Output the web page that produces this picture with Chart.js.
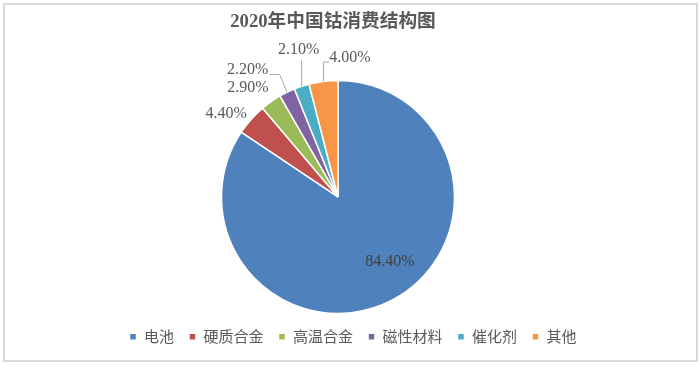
<!DOCTYPE html>
<html lang="zh">
<head>
<meta charset="UTF-8">
<title>2020年中国钴消费结构图</title>
<style>
  html, body { margin: 0; padding: 0; background: #fff; }
  #wrap { position: relative; width: 700px; height: 365px; }
  #frame { position: absolute; left: 3px; top: 3px; width: 691px; height: 355px; border: 2px solid #d9d9d9; pointer-events: none; }
</style>
</head>
<body>
<div id="wrap">
  <canvas id="cobalt-chart" width="700" height="365"></canvas>
  <div id="frame"></div>
</div>
<script src="https://cdn.jsdelivr.net/npm/chart.js@4.4.1/dist/chart.umd.min.js"></script>
<script>
// данные
const categories = ['电池', '硬质合金', '高温合金', '磁性材料', '催化剂', '其他'];
const shares = [84.4, 4.4, 2.9, 2.2, 2.1, 4.0];
const colors = ['#4f81bd', '#c0504d', '#9bbb59', '#8064a2', '#4bacc6', '#f79646'];

// где ставить подписи: text — центр текста относительно точки на краю сектора,
// line — излом выноски; inner — подпись внутри (доля радиуса от центра)
const labelPlace = [
  { inner: [0.445, 0.56] },
  { text: [-25, -6] },
  { text: [-23, -13.5] },
  { text: [-39.5, -22], line: [[-7.5, -17.8], [-17.5, -17.8]] },
  { text: [-3, -36.5], line: [[0, -26]] },
  { text: [26.5, -24], line: [[0, -19.4], [5.5, -19.4]] }
];

const serif = '"Liberation Serif", "Times New Roman", "Noto Sans CJK SC", serif';

const pieLabels = {
  id: 'pieLabels',
  afterDatasetsDraw(chart) {
    const ctx = chart.ctx;
    const arcs = chart.getDatasetMeta(0).data;
    ctx.save();
    ctx.font = '16px ' + serif;
    ctx.textAlign = 'center';
    ctx.textBaseline = 'middle';
    arcs.forEach((arc, i) => {
      const { x, y, startAngle, endAngle, outerRadius } = arc.getProps(['x', 'y', 'startAngle', 'endAngle', 'outerRadius'], true);
      const place = labelPlace[i];
      const text = shares[i].toFixed(2) + '%';
      if (place.inner) {
        ctx.fillStyle = '#404040';
        ctx.fillText(text, x + place.inner[0] * outerRadius, y + place.inner[1] * outerRadius);
        return;
      }
      const mid = (startAngle + endAngle) / 2;
      const ax = x + Math.cos(mid) * outerRadius;
      const ay = y + Math.sin(mid) * outerRadius;
      if (place.line) {
        ctx.strokeStyle = '#a6a6a6';
        ctx.lineWidth = 1;
        ctx.beginPath();
        ctx.moveTo(ax, ay);
        place.line.forEach(p => ctx.lineTo(ax + p[0], ay + p[1]));
        ctx.stroke();
      }
      ctx.fillStyle = '#595959';
      ctx.fillText(text, ax + place.text[0], ay + place.text[1]);
    });
    ctx.restore();
  }
};

// немного сдвигаем легенду и заголовок, как в оригинале
const nudge = {
  id: 'nudge',
  afterLayout(chart) {
    chart.legend.left += 15;
    chart.legend.right += 15;
    chart.titleBlock.left -= 5;
    chart.titleBlock.right -= 5;
  }
};

const ctx = document.getElementById('cobalt-chart').getContext('2d');
const chart = new Chart(ctx, {
  type: 'pie',
  data: {
    labels: categories,
    datasets: [{
      data: shares,
      backgroundColor: colors,
      borderColor: '#ffffff',
      borderWidth: 1.5
    }]
  },
  options: {
    responsive: false,
    animation: false,
    layout: { padding: { top: 0, right: 24, bottom: 10.8, left: 0 } },
    plugins: {
      title: {
        display: true,
        text: '2020年中国钴消费结构图',
        color: '#595959',
        font: { family: serif, size: 18.7, weight: 'bold' },
        padding: { top: 10.5, bottom: 46.8 }
      },
      legend: {
        position: 'bottom',
        labels: {
          color: '#595959',
          font: { family: '"Noto Sans CJK SC", sans-serif', size: 15 },
          boxWidth: 7,
          boxHeight: 7,
          padding: 15
        }
      },
      tooltip: { enabled: false }
    }
  },
  plugins: [pieLabels, nudge]
});
</script>
</body>
</html>
